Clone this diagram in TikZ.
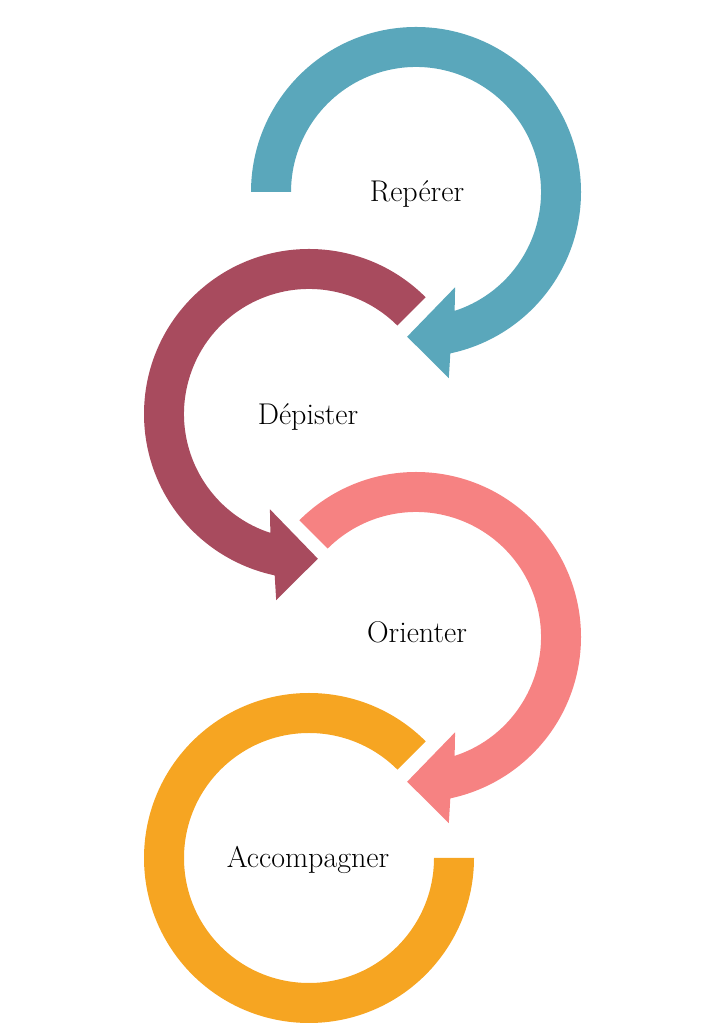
\documentclass[tikz,border=0pt]{standalone}
\usepackage{tikz}
\usepackage{xcolor}
\usetikzlibrary{calc}
\definecolor{cReperer}{RGB}{90,167,187}
\definecolor{cDepister}{RGB}{168,75,94}
\definecolor{cOrienter}{RGB}{246,130,130}
\definecolor{cAccomp}{RGB}{246,165,34}

\begin{document}
\begin{tikzpicture}[x=1pt,y=1pt,
	stage/.style={font=\fontsize{30}{34}\selectfont, anchor=base, inner sep=0pt},
	ring/.style={draw=none}]

\useasboundingbox (0,0) rectangle (724,1024);

% Define the radii of the rings.
\def\rout{165}
\def\rin{125}

% Centres of the four rings
\coordinate (c1) at (416,832);
\coordinate (c2) at (309,610);
\coordinate (c3) at (416,387);
\coordinate (c4) at (309,166);

% Repérer: clockwise, head at the bottom
\fill[ring, cReperer] ($(c1)+(180:\rout)$) arc[start angle=180, end angle=-78, radius=\rout]
	-- ($(c1)+(-80:189)$) -- ($(c1)+(-93.5:145)$) -- ($(c1)+(-67.7:103)$)
	-- ($(c1)+(-72:\rin)$) arc[start angle=-72, end angle=180, radius=\rin] -- cycle;

% Dépister: counterclockwise, head at the bottom
\fill[ring, cDepister] ($(c2)+(45:\rout)$) arc[start angle=45, end angle=258, radius=\rout]
	-- ($(c2)+(260:189)$) -- ($(c2)+(273.5:145)$) -- ($(c2)+(247.7:103)$)
	-- ($(c2)+(252:\rin)$) arc[start angle=252, end angle=45, radius=\rin] -- cycle;

% Orienter: clockwise, head at the bottom
\fill[ring, cOrienter] ($(c3)+(135:\rout)$) arc[start angle=135, end angle=-78, radius=\rout]
	-- ($(c3)+(-80:189)$) -- ($(c3)+(-93.5:145)$) -- ($(c3)+(-67.7:103)$)
	-- ($(c3)+(-72:\rin)$) arc[start angle=-72, end angle=135, radius=\rin] -- cycle;

% Accompagner: counterclockwise, no head
\fill[ring, cAccomp] ($(c4)+(45:\rout)$) arc[start angle=45, end angle=360, radius=\rout]
	-- ($(c4)+(0:\rin)$) arc[start angle=360, end angle=45, radius=\rin] -- cycle;

% Labels
\node[stage] (reperer) at (417,822) {Repérer};
\node[stage] (depister) at (308,599) {Dépister};
\node[stage] (orienter) at (417,381) {Orienter};
\node[stage] (accomp) at (308,156) {Accompagner};

\end{tikzpicture}
\end{document}
